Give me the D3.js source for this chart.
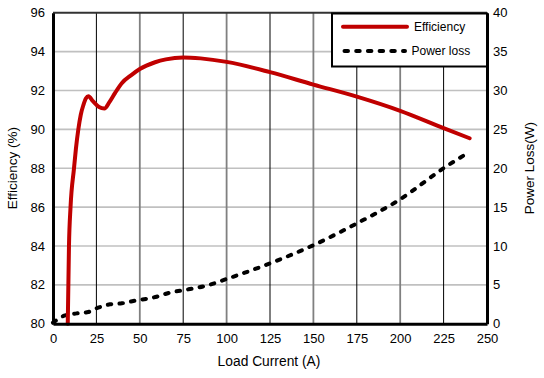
<!DOCTYPE html>
<html><head><meta charset="utf-8">
<script src="https://cdn.jsdelivr.net/npm/d3@7"></script>
<style>body{margin:0;background:#fff}svg{display:block}text{font-family:"Liberation Sans",Arial,sans-serif;fill:#000}</style>
</head><body><svg id="c" width="544" height="378"></svg>
<script>
const xTicks = [0,25,50,75,100,125,150,175,200,225,250];
const effTicks = [80,82,84,86,88,90,92,94,96];
const lossTicks = [0,5,10,15,20,25,30,35,40];
const effX = [8.5,9.2,10.1,12.1,13.2,14.6,16,17.5,19,20.4,23,26.5,29.6,32.5,35.7,39.6,45.3,50,58.8,65,75,85,100,125,150,175,200,225,240];
const effY = [80,84,86,88,89,90,90.75,91.25,91.6,91.7,91.45,91.15,91.07,91.4,91.86,92.37,92.8,93.1,93.45,93.6,93.7,93.65,93.47,92.94,92.3,91.68,90.95,90.06,89.54];
const lossX = [0,6.5,13.6,20.3,26,32.8,39.6,46.3,59.7,67.4,75,90,100,125,150,175,200,225,240];
const lossY = [0.13,1.03,1.33,1.5,2.06,2.49,2.62,2.92,3.47,4.0,4.3,5.0,5.75,7.76,10.1,12.9,16.0,20.0,22.1];
const seriesNames = ["Efficiency","Power loss"];
const xTitle = "Load Current (A)", yTitle = "Efficiency (%)", y2Title = "Power Loss(W)";

const svg = d3.select("#c");
const L=53, R=487, T=12.7, B=323.7;
const x = d3.scaleLinear().domain([0,250]).range([L,R]);
const y = d3.scaleLinear().domain([80,96]).range([B,T]);
const y2 = d3.scaleLinear().domain([0,40]).range([B,T]);

svg.append("g").selectAll("line").data(effTicks.slice(1,-1)).join("line")
  .attr("x1",L).attr("x2",R).attr("y1",d=>y(d)).attr("y2",d=>y(d))
  .attr("stroke","#c0c0c0").attr("stroke-width",1.6);
svg.append("g").selectAll("line").data(xTicks.slice(1,-1)).join("line")
  .attr("x1",d=>x(d)).attr("x2",d=>x(d)).attr("y1",T).attr("y2",B)
  .attr("stroke",d=>d%50===0?"#808080":"#000").attr("stroke-width",d=>d%50===0?1.8:1);
svg.append("line").attr("x1",L).attr("x2",R).attr("y1",T).attr("y2",T).attr("stroke","#333").attr("stroke-width",2);

const lossData = lossX.map((v,i)=>[v,lossY[i]]);
const effData = effX.map((v,i)=>[v,effY[i]]);
svg.append("path").datum(lossData)
  .attr("d",d3.line().x(d=>x(d[0])).y(d=>y2(d[1])).curve(d3.curveMonotoneX))
  .attr("fill","none").attr("stroke","#000").attr("stroke-width",4)
  .attr("stroke-dasharray","3.5,8.2").attr("stroke-linecap","round");
svg.append("path").datum(effData)
  .attr("d",d3.line().x(d=>x(d[0])).y(d=>y(d[1])).curve(d3.curveMonotoneX))
  .attr("fill","none").attr("stroke","#c00000").attr("stroke-width",4).attr("stroke-linecap","round").attr("stroke-linejoin","round");

const xa = svg.append("g").attr("transform",`translate(0,${B})`).call(d3.axisBottom(x).tickValues(xTicks).tickSize(0).tickPadding(10));
const ya = svg.append("g").attr("transform",`translate(${L},0)`).call(d3.axisLeft(y).tickValues(effTicks).tickSize(0).tickPadding(8));
const y2a = svg.append("g").attr("transform",`translate(${R},0)`).call(d3.axisRight(y2).tickValues(lossTicks).tickSize(0).tickPadding(6));
[xa,ya,y2a].forEach(g=>{
  g.select(".domain").attr("stroke","#000").attr("stroke-width",3);
  g.selectAll("text").attr("font-size",13).attr("font-family","Liberation Sans, Arial, sans-serif").attr("fill","#000");
});

svg.append("text").attr("x",269).attr("y",366).attr("text-anchor","middle").attr("font-size",13.8).text(xTitle);
svg.append("text").attr("transform",`translate(16.5,${(T+B)/2}) rotate(-90)`).attr("text-anchor","middle").attr("font-size",13.5).text(yTitle);
svg.append("text").attr("transform",`translate(533.5,${(T+B)/2}) rotate(-90)`).attr("text-anchor","middle").attr("font-size",13.5).text(y2Title);

const lg = svg.append("g");
lg.append("rect").attr("x",332).attr("y",13.5).attr("width",155).attr("height",53)
  .attr("fill","#fff").attr("stroke","#000").attr("stroke-width",2);
lg.append("line").attr("x1",343).attr("x2",407).attr("y1",26.7).attr("y2",26.7)
  .attr("stroke","#c00000").attr("stroke-width",4).attr("stroke-linecap","round");
lg.append("line").attr("x1",344.5).attr("x2",405).attr("y1",51).attr("y2",51)
  .attr("stroke","#000").attr("stroke-width",4).attr("stroke-dasharray","3.5,8.2").attr("stroke-linecap","round");
lg.append("text").attr("x",414).attr("y",30.7).attr("font-size",12).text(seriesNames[0]);
lg.append("text").attr("x",411.5).attr("y",55).attr("font-size",12).text(seriesNames[1]);
</script></body></html>
